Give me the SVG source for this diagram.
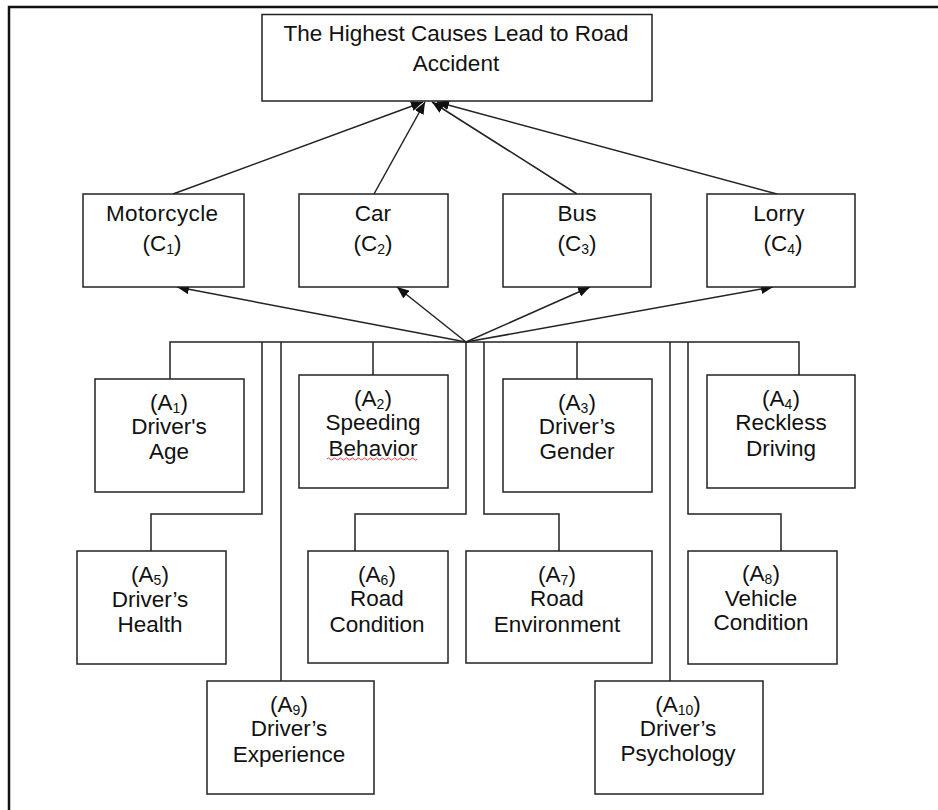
<svg xmlns="http://www.w3.org/2000/svg" width="938" height="810" viewBox="0 0 938 810">
<style>
.box{fill:#fff;stroke:#222;stroke-width:1.5}
.ln{fill:none;stroke:#222;stroke-width:1.5}
.ar{fill:none;stroke:#222;stroke-width:1.5;marker-end:url(#ah)}
text{font-family:"Liberation Sans",Arial,sans-serif;font-size:22.5px;fill:#111;text-anchor:middle}
.sb{font-size:14px}
</style>
<defs>
<marker id="ah" markerUnits="userSpaceOnUse" markerWidth="13" markerHeight="10" refX="12" refY="5" orient="auto">
<path d="M0,0 L12,5 L0,10 z" fill="#111"/>
</marker>
</defs>
<rect width="938" height="810" fill="#fff"/>
<g id="frame"><path d="M9,810 V7 H938" fill="none" stroke="#111" stroke-width="2.5"/></g>

<g id="connectors">
<path class="ar" d="M173,194 L423,102"/>
<path class="ar" d="M374,194 L425,102"/>
<path class="ar" d="M577,194 L432,102"/>
<path class="ar" d="M777,194 L437,102"/>
<path class="ar" d="M466,342 L177,287"/>
<path class="ar" d="M466,342 L397,287"/>
<path class="ar" d="M466,342 L590,287"/>
<path class="ar" d="M466,342 L773,287"/>
<path class="ln" d="M170,379 V342 H799 V375"/>
<path class="ln" d="M373,342 V375"/>
<path class="ln" d="M577,342 V379"/>
<path class="ln" d="M262,342 V514 H151 V551"/>
<path class="ln" d="M281,342 V681"/>
<path class="ln" d="M466,342 V514 H355 V551"/>
<path class="ln" d="M484,342 V514 H559 V551"/>
<path class="ln" d="M670,342 V681"/>
<path class="ln" d="M688,342 V514 H781 V551"/>
</g>

<g id="goal">
<rect class="box" x="262" y="14.5" width="390" height="86.5"/>
<text x="456" y="41">The Highest Causes Lead to Road</text>
<text x="456" y="71">Accident</text>
</g>

<g id="C1">
<rect class="box" x="83" y="194" width="161" height="93"/>
<text x="162" y="221" textLength="112">Motorcycle</text>
<text x="162" y="251">(C<tspan class="sb" dy="3">1</tspan><tspan dy="-3">)</tspan></text>
</g>
<g id="C2">
<rect class="box" x="299" y="194" width="149" height="93"/>
<text x="373" y="221">Car</text>
<text x="373" y="251">(C<tspan class="sb" dy="3">2</tspan><tspan dy="-3">)</tspan></text>
</g>
<g id="C3">
<rect class="box" x="503" y="194" width="148" height="93"/>
<text x="577" y="221">Bus</text>
<text x="577" y="251">(C<tspan class="sb" dy="3">3</tspan><tspan dy="-3">)</tspan></text>
</g>
<g id="C4">
<rect class="box" x="707" y="194" width="148" height="93"/>
<text x="779" y="221">Lorry</text>
<text x="783" y="251">(C<tspan class="sb" dy="3">4</tspan><tspan dy="-3">)</tspan></text>
</g>

<g id="A1">
<rect class="box" x="95" y="379" width="149" height="113"/>
<text x="169" y="410">(A<tspan class="sb" dy="3">1</tspan><tspan dy="-3">)</tspan></text>
<text x="169" y="434">Driver's</text>
<text x="169" y="459">Age</text>
</g>
<g id="A2">
<rect class="box" x="299" y="375" width="149" height="113"/>
<text x="373" y="406">(A<tspan class="sb" dy="3">2</tspan><tspan dy="-3">)</tspan></text>
<text x="373" y="430">Speeding</text>
<text x="373" y="456">Behavior</text>
<path d="M327,459 q1.5,-2 3,0 t3,0 t3,0 t3,0 t3,0 t3,0 t3,0 t3,0 t3,0 t3,0 t3,0 t3,0 t3,0 t3,0 t3,0 t3,0 t3,0 t3,0 t3,0 t3,0 t3,0 t3,0 t3,0 t3,0 t3,0 t3,0 t3,0 t3,0 t3,0 t3,0" fill="none" stroke="#e03030" stroke-width="0.9"/>
</g>
<g id="A3">
<rect class="box" x="503" y="379" width="149" height="113"/>
<text x="577" y="410">(A<tspan class="sb" dy="3">3</tspan><tspan dy="-3">)</tspan></text>
<text x="577" y="434">Driver’s</text>
<text x="577" y="459">Gender</text>
</g>
<g id="A4">
<rect class="box" x="707" y="375" width="148" height="113"/>
<text x="781" y="406">(A<tspan class="sb" dy="3">4</tspan><tspan dy="-3">)</tspan></text>
<text x="781" y="430">Reckless</text>
<text x="781" y="456">Driving</text>
</g>
<g id="A5">
<rect class="box" x="77" y="551" width="149" height="113"/>
<text x="150" y="582">(A<tspan class="sb" dy="3">5</tspan><tspan dy="-3">)</tspan></text>
<text x="150" y="607">Driver’s</text>
<text x="150" y="632">Health</text>
</g>
<g id="A6">
<rect class="box" x="308" y="551" width="140" height="112"/>
<text x="377" y="582">(A<tspan class="sb" dy="3">6</tspan><tspan dy="-3">)</tspan></text>
<text x="377" y="606">Road</text>
<text x="377" y="632">Condition</text>
</g>
<g id="A7">
<rect class="box" x="466" y="551" width="186" height="112"/>
<text x="557" y="582">(A<tspan class="sb" dy="3">7</tspan><tspan dy="-3">)</tspan></text>
<text x="557" y="606">Road</text>
<text x="557" y="632">Environment</text>
</g>
<g id="A8">
<rect class="box" x="688" y="551" width="149" height="113"/>
<text x="761" y="581">(A<tspan class="sb" dy="3">8</tspan><tspan dy="-3">)</tspan></text>
<text x="761" y="606">Vehicle</text>
<text x="761" y="630">Condition</text>
</g>
<g id="A9">
<rect class="box" x="207" y="681" width="167" height="113"/>
<text x="289" y="712">(A<tspan class="sb" dy="3">9</tspan><tspan dy="-3">)</tspan></text>
<text x="289" y="736">Driver’s</text>
<text x="289" y="762">Experience</text>
</g>
<g id="A10">
<rect class="box" x="595" y="681" width="168" height="113"/>
<text x="678" y="712">(A<tspan class="sb" dy="3">10</tspan><tspan dy="-3">)</tspan></text>
<text x="678" y="736">Driver’s</text>
<text x="678" y="761">Psychology</text>
</g>
</svg>
